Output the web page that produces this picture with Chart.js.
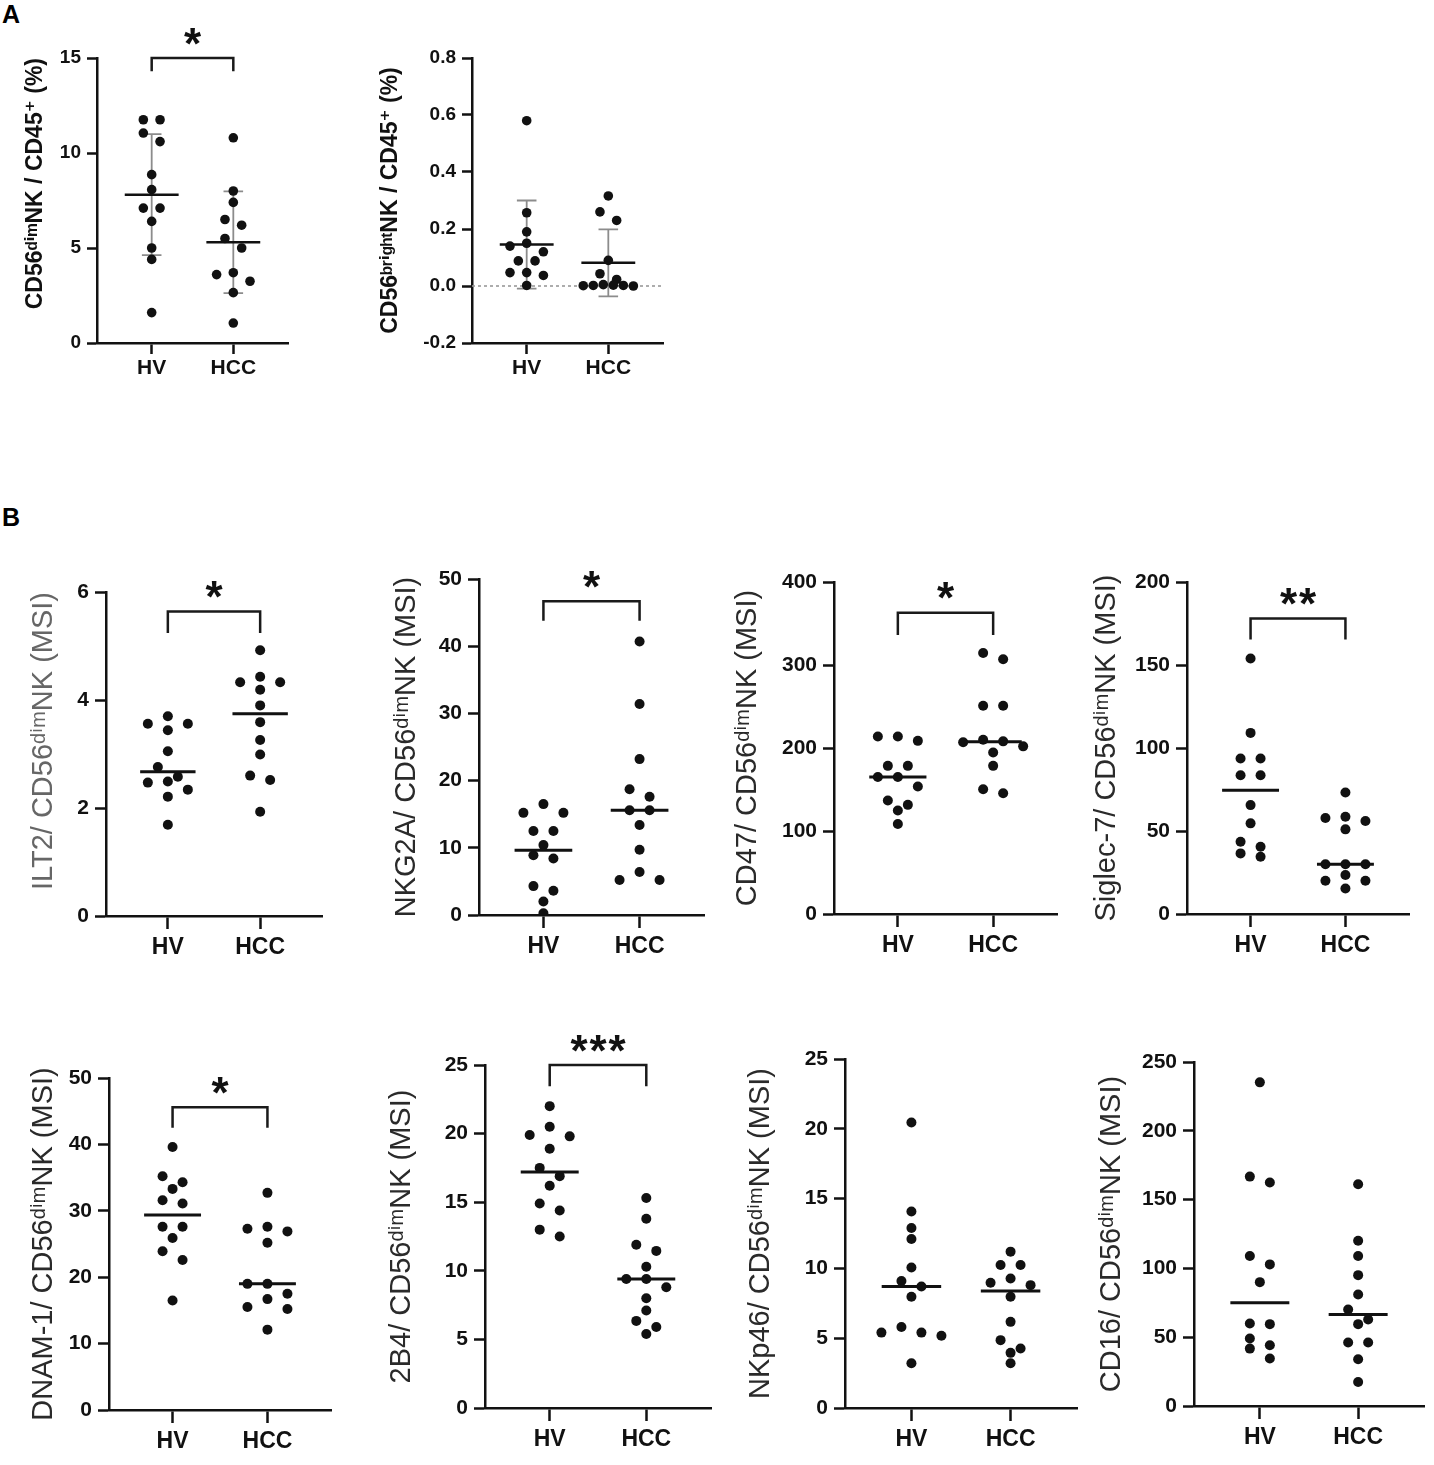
<!DOCTYPE html>
<html>
<head>
<meta charset="utf-8">
<script src="https://cdn.jsdelivr.net/npm/chart.js@4.4.1/dist/chart.umd.min.js"></script>
<style>
  body { margin: 0; background: #fff; width: 1434px; height: 1465px; overflow: hidden; position: relative;
         font-family: "Liberation Sans", Arial, sans-serif; }
  canvas { position: absolute; }
  .tag { position: absolute; font-weight: bold; font-size: 25px; line-height: 1; color: #000; }
</style>
</head>
<body>
<div class="tag" style="left:2px;top:2px">A</div>
<div class="tag" style="left:2px;top:505px">B</div>
<script>
const groups = ['HV', 'HCC'];

// A: % of CD45+ cells (mean +/- SD)
const dimHv = [11.75, 11.75, 11.05, 10.6, 8.86, 8.07, 7.1, 7.1, 6.4, 5.0, 4.4, 1.6];
const dimHcc = [10.8, 8.0, 7.4, 6.5, 6.2, 5.5, 5.0, 3.7, 3.6, 3.25, 2.65, 1.05];
const brightHv = [0.58, 0.257, 0.19, 0.15, 0.14, 0.12, 0.088, 0.088, 0.047, 0.047, 0.037, 0.002];
const brightHcc = [0.316, 0.26, 0.23, 0.09, 0.043, 0.023, 0.0, 0.002, 0.003, 0.001, 0.005, 0.002];

// B: MSI on CD56dim NK cells (line = median)
const ilt2Hv = [3.70, 3.56, 3.56, 3.44, 3.05, 2.76, 2.58, 2.49, 2.47, 2.34, 2.21, 1.69];
const ilt2Hcc = [4.92, 4.43, 4.33, 4.33, 4.19, 3.90, 3.59, 3.26, 2.99, 2.60, 2.52, 1.93];
const nkg2aHv = [16.5, 15.2, 15.2, 12.5, 12.5, 10.4, 8.9, 8.4, 4.3, 3.6, 2.0, 0.25];
const nkg2aHcc = [40.7, 31.4, 23.2, 18.7, 17.6, 15.6, 15.6, 13.4, 9.7, 6.4, 5.2, 5.2];
const cd47Hv = [213.9, 213.9, 208.6, 178.5, 178.5, 165, 165, 153.6, 136.7, 131.5, 124.6, 108.5];
const cd47Hcc = [314.4, 307, 250.8, 250.8, 210, 208, 207, 202, 194.6, 178.5, 150.4, 145.5];
const siglecHv = [153.9, 109.1, 93.7, 93.7, 83.6, 83.6, 65.6, 54.6, 43.5, 40.5, 36.5, 34.5];
const siglecHcc = [73.2, 58.6, 57.8, 56, 51, 30, 30, 30, 23.5, 20, 20, 15.4];
const dnamHv = [39.6, 35.2, 34.3, 33.3, 31.6, 31.1, 27.6, 27.6, 25.9, 23.9, 22.6, 16.5];
const dnamHcc = [32.7, 27.6, 27.3, 26.9, 25.2, 19, 19, 17.5, 16.7, 15.5, 15.2, 12.1];
const b4Hv = [22.0, 20.5, 19.9, 19.8, 18.9, 17.5, 16.9, 16.2, 14.9, 14.4, 13.0, 12.5];
const b4Hcc = [15.3, 13.8, 11.9, 11.45, 10.3, 9.4, 9.4, 8.8, 8.0, 7.1, 6.35, 5.9, 5.4];
const nkp46Hv = [20.45, 14.07, 12.9, 12.1, 10.07, 9.1, 8.7, 7.97, 5.8, 5.4, 5.4, 5.17, 3.2];
const nkp46Hcc = [11.2, 10.24, 10.24, 9.28, 8.97, 8.8, 7.97, 6.17, 4.86, 4.26, 3.95, 3.2];
const cd16Hv = [235.2, 166.7, 162.4, 109, 102.9, 90, 60, 59.5, 49, 44.2, 41.7, 34.5];
const cd16Hcc = [161.2, 120.1, 109, 95.1, 81, 70.1, 62.9, 59.5, 46.1, 46.1, 34, 17.5];

Chart.defaults.font.family = '"Liberation Sans", Arial, "DejaVu Sans", sans-serif';
Chart.defaults.color = '#111';
Chart.defaults.animation = false;

const styleA = { tick: 19, xlab: 21, title: 23, weight: 'bold', color: '#111', yTick: 10, yPad: 6,
  xTick: 11, xPad: 2, xH: 42, gap: 16.7, dot: 4.8, half: 0.33, lineWidth: 2.5, star: 44 };
const styleB = { tick: 21, xlab: 23, title: 29, weight: 'normal', color: '#2a2a2a', yTick: 11, yPad: 6,
  xTick: 13, xPad: 5, xH: 52, gap: 20, dot: 5, half: 0.3, lineWidth: 3, star: 44 };

const panels = [
  { hv: dimHv, hcc: dimHcc, title: 'CD56ᵈⁱᵐNK / CD45⁺ (%)', titleAlign: 'end', kind: 'mean', min: 0, max: 15, step: 5, dec: 0,
    bracket: [15, 14.3], stars: '*', s: styleA, box: { titleX: 36, axisX: 97, right: 288, top: 58, bottom: 343 } },
  { hv: brightHv, hcc: brightHcc, title: 'CD56ᵇʳⁱᵍʰᵗNK / CD45⁺ (%)', kind: 'mean', min: -0.2, max: 0.8, step: 0.2, dec: 1,
    zero: true, s: styleA, box: { titleX: 391, axisX: 472, right: 663, top: 58, bottom: 343 } },
  { hv: ilt2Hv, hcc: ilt2Hcc, title: 'ILT2/ CD56ᵈⁱᵐNK (MSI)', titleColor: '#666', titleAlign: 'end', kind: 'median', min: 0, max: 6, step: 2, dec: 0,
    bracket: [5.64, 5.24], stars: '*', s: styleB, box: { titleX: 44, axisX: 106, right: 322, top: 592, bottom: 916 } },
  { hv: nkg2aHv, hcc: nkg2aHcc, title: 'NKG2A/ CD56ᵈⁱᵐNK (MSI)', kind: 'median', min: 0, max: 50, step: 10, dec: 0,
    bracket: [46.7, 43.8], stars: '*', s: styleB, box: { titleX: 407, axisX: 479, right: 704, top: 579, bottom: 915 } },
  { hv: cd47Hv, hcc: cd47Hcc, title: 'CD47/ CD56ᵈⁱᵐNK (MSI)', kind: 'median', min: 0, max: 400, step: 100, dec: 0,
    bracket: [363, 336], stars: '*', s: styleB, box: { titleX: 748, axisX: 834, right: 1057, top: 582, bottom: 914 } },
  { hv: siglecHv, hcc: siglecHcc, title: 'Siglec-7/ CD56ᵈⁱᵐNK (MSI)', kind: 'median', min: 0, max: 200, step: 50, dec: 0,
    bracket: [178, 165.4], stars: '**', s: styleB, box: { titleX: 1107, axisX: 1187, right: 1409, top: 582, bottom: 914 } },
  { hv: dnamHv, hcc: dnamHcc, title: 'DNAM-1/ CD56ᵈⁱᵐNK (MSI)', kind: 'median', min: 0, max: 50, step: 10, dec: 0,
    bracket: [45.6, 42.5], stars: '*', s: styleB, box: { titleX: 44, axisX: 109, right: 331, top: 1078, bottom: 1410 } },
  { hv: b4Hv, hcc: b4Hcc, title: '2B4/ CD56ᵈⁱᵐNK (MSI)', kind: 'median', min: 0, max: 25, step: 5, dec: 0,
    bracket: [25, 23.46], stars: '***', s: styleB, box: { titleX: 402, axisX: 485, right: 711, top: 1065, bottom: 1408 } },
  { hv: nkp46Hv, hcc: nkp46Hcc, title: 'NKp46/ CD56ᵈⁱᵐNK (MSI)', kind: 'median', min: 0, max: 25, step: 5, dec: 0,
    s: styleB, box: { titleX: 761, axisX: 845, right: 1077, top: 1059, bottom: 1408 } },
  { hv: cd16Hv, hcc: cd16Hcc, title: 'CD16/ CD56ᵈⁱᵐNK (MSI)', kind: 'median', min: 0, max: 250, step: 50, dec: 0,
    s: styleB, box: { titleX: 1112, axisX: 1194, right: 1424, top: 1062, bottom: 1406 } }
];

const mean = a => a.reduce((t, v) => t + v, 0) / a.length;
const sd = a => { const m = mean(a); return Math.sqrt(a.reduce((t, v) => t + (v - m) ** 2, 0) / (a.length - 1)); };
const median = a => { const s = [...a].sort((x, y) => x - y), n = s.length;
  return n % 2 ? s[(n - 1) / 2] : (s[n / 2 - 1] + s[n / 2]) / 2; };

// significance stars above the bracket
const starPlugin = {
  id: 'stars',
  afterDatasetsDraw(chart, args, opts) {
    if (!opts.text) return;
    const { ctx, scales: { x, y } } = chart;
    ctx.save();
    ctx.font = 'bold ' + opts.size + 'px "Liberation Sans", Arial, sans-serif';
    ctx.fillStyle = '#111';
    ctx.textAlign = 'center';
    const m = ctx.measureText('*');
    const mid = (m.actualBoundingBoxAscent - m.actualBoundingBoxDescent) / 2;
    const cy = y.getPixelForValue(opts.level) - 22 + mid;
    const n = opts.text.length, cx = x.getPixelForValue(1.5);
    for (let i = 0; i < n; i++) ctx.fillText('*', cx + (i - (n - 1) / 2) * 19, cy);
    ctx.restore();
  }
};

// spread points of similar value sideways, centred on the group
function swarmX(values, centre, toPx, pxPerX, gap, dia) {
  const order = values.map((v, i) => i).sort((a, b) => values[b] - values[a]);
  const xs = new Array(values.length);
  let row = [];
  const flush = () => {
    const n = row.length;
    const step = n > 1 ? Math.min(gap, 3 * gap / (n - 1)) : gap;
    const slots = row.map((_, k) => k - (n - 1) / 2).sort((a, b) => Math.abs(a) - Math.abs(b) || a - b);
    row.forEach((idx, k) => { xs[idx] = centre + slots[k] * step / pxPerX; });
    row = [];
  };
  order.forEach(i => {
    if (row.length && toPx(values[i]) - toPx(values[row[0]]) >= dia) flush();
    row.push(i);
  });
  flush();
  return xs;
}

function makePanel(p) {
  const s = p.s, b = p.box;
  const lh = s.title * 1.2;
  const left = Math.round(b.titleX - lh / 2);
  const padTop = Math.min(b.top, 62);
  const padRight = 8;
  const canvas = document.createElement('canvas');
  canvas.width = Math.round(b.right - left + padRight);
  canvas.height = Math.round(padTop + (b.bottom - b.top) + s.xH);
  canvas.style.left = left + 'px';
  canvas.style.top = (b.top - padTop) + 'px';
  document.body.appendChild(canvas);

  const sets = [p.hv, p.hcc];
  const centres = [1, 2];
  const mark = sets.map(p.kind === 'mean' ? mean : median);
  const datasets = [];

  const cl = [];
  centres.forEach((c, i) => cl.push({ x: c - s.half, y: mark[i] }, { x: c + s.half, y: mark[i] }, { x: c + 0.5, y: null }));
  datasets.push({ data: cl, showLine: true, borderColor: '#111', borderWidth: s.lineWidth, pointRadius: 0, order: 0 });

  sets.forEach((vals, i) => datasets.push({
    data: vals.map(v => ({ x: centres[i], y: v })), values: vals, centre: centres[i],
    pointRadius: s.dot, pointBackgroundColor: '#111', pointBorderWidth: 0, order: 1
  }));

  if (p.kind === 'mean') {
    const eb = [];
    centres.forEach((c, i) => {
      const d = sd(sets[i]), lo = mark[i] - d, hi = mark[i] + d;
      eb.push({ x: c, y: lo }, { x: c, y: hi }, { x: c, y: null },
        { x: c - 0.12, y: hi }, { x: c + 0.12, y: hi }, { x: c, y: null },
        { x: c - 0.12, y: lo }, { x: c + 0.12, y: lo }, { x: c, y: null });
    });
    datasets.push({ data: eb, showLine: true, borderColor: '#8c8c8c', borderWidth: 1.8, pointRadius: 0, order: 2 });
  }
  if (p.zero) {
    datasets.push({ data: [{ x: 0.33, y: 0 }, { x: 2.67, y: 0 }], showLine: true, borderColor: '#9a9a9a',
      borderDash: [3, 3], borderWidth: 1.6, pointRadius: 0, order: 3 });
  }
  if (p.bracket) {
    const [top, leg] = p.bracket;
    datasets.push({ data: [{ x: 1, y: leg }, { x: 1, y: top }, { x: 2, y: top }, { x: 2, y: leg }], showLine: true,
      borderColor: '#1a1a1a', borderWidth: 2.5, pointRadius: 0, clip: false, order: 0 });
  }

  const chart = new Chart(canvas, {
    type: 'scatter',
    data: { datasets },
    plugins: [starPlugin],
    options: {
      responsive: false,
      events: [],
      layout: { padding: { left: 0, top: padTop, right: padRight, bottom: 0 } },
      plugins: {
        legend: { display: false },
        tooltip: { enabled: false },
        stars: { text: p.stars, level: p.bracket ? p.bracket[0] : 0, size: s.star }
      },
      scales: {
        x: {
          type: 'linear', min: 0.33, max: 2.67,
          afterBuildTicks: sc => { sc.ticks = centres.map(v => ({ value: v })); },
          afterFit: sc => { sc.height = s.xH; },
          ticks: { callback: v => groups[v - 1], font: { size: s.xlab, weight: 'bold' }, color: '#111', padding: s.xPad, maxRotation: 0 },
          grid: { drawOnChartArea: false, drawTicks: true, tickLength: s.xTick, tickWidth: 2.5, tickColor: '#111' },
          border: { color: '#111', width: 2.5 }
        },
        y: {
          min: p.min, max: p.max,
          afterBuildTicks: sc => {
            sc.ticks = [];
            for (let v = p.min; v <= p.max + 1e-9; v += p.step) sc.ticks.push({ value: +v.toFixed(6) });
          },
          afterFit: sc => { sc.width = b.axisX - left; },
          ticks: { callback: v => v.toFixed(p.dec), font: { size: s.tick, weight: 'bold' }, color: '#111', padding: s.yPad, autoSkip: false },
          grid: { drawOnChartArea: false, drawTicks: true, tickLength: s.yTick, tickWidth: 2.5, tickColor: '#111' },
          border: { color: '#111', width: 2.5 },
          title: { display: true, text: p.title, color: p.titleColor || s.color, padding: 0,
                   align: p.titleAlign || 'center', font: { size: s.title, weight: s.weight } }
        }
      }
    }
  });

  const ys = chart.scales.y, xs = chart.scales.x;
  const pxPerX = xs.getPixelForValue(2) - xs.getPixelForValue(1);
  chart.data.datasets.forEach(ds => {
    if (!ds.values) return;
    const pos = swarmX(ds.values, ds.centre, v => ys.getPixelForValue(v), pxPerX, s.gap, s.dot * 2);
    ds.data = ds.values.map((v, i) => ({ x: pos[i], y: v }));
  });
  chart.update('none');
}

panels.forEach(makePanel);
</script>
</body>
</html>
